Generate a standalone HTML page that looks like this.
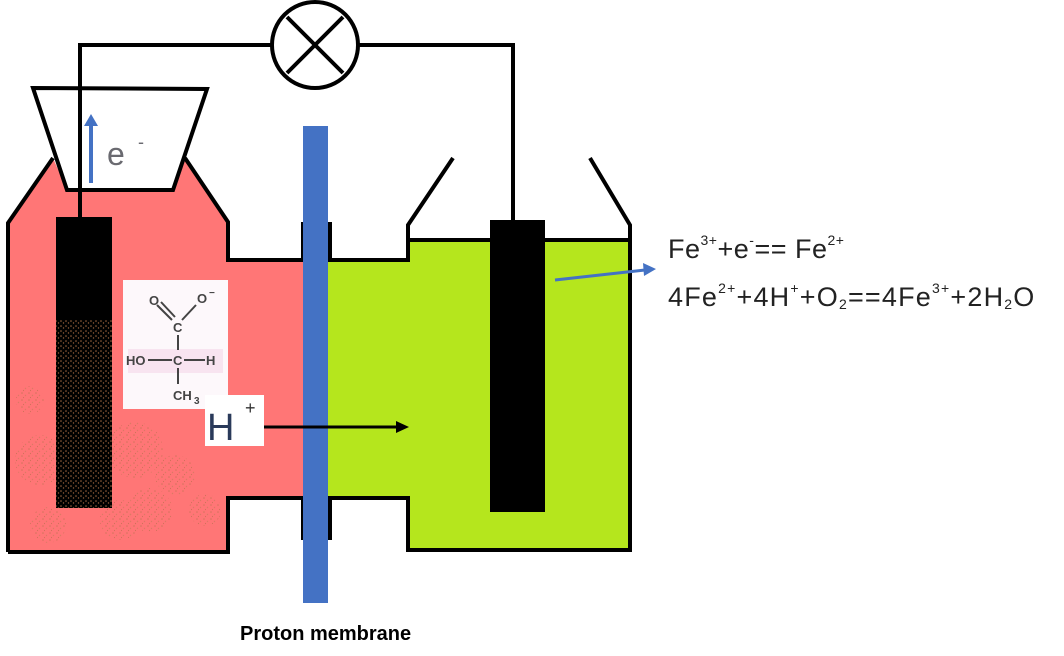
<!DOCTYPE html>
<html><head><meta charset="utf-8"><style>
html,body{margin:0;padding:0;background:#fff;}
svg{display:block;}
</style></head><body>
<svg width="1064" height="656" viewBox="0 0 1064 656" xmlns="http://www.w3.org/2000/svg">
<defs>
<pattern id="dots" width="7" height="7" patternUnits="userSpaceOnUse">
<circle cx="1" cy="1" r="0.8" fill="#a07040"/><circle cx="4.5" cy="3.5" r="0.7" fill="#b08050"/><circle cx="2.5" cy="5.5" r="0.6" fill="#9a6a3a"/>
</pattern>
<pattern id="dots2" width="5" height="5" patternUnits="userSpaceOnUse">
<circle cx="1" cy="1" r="0.8" fill="#e0915a"/><circle cx="3.5" cy="3" r="0.7" fill="#d08550"/>
</pattern>
</defs>
<path d="M8,223 L53,158 L67,190 L173,190 L185,158 L228,222 L228,260 L303,260 L303,538 L303,498 L228,498 L228,552 L8,552 Z" fill="#ff7676"/>
<path d="M326,260 L408,260 L408,240 L630,240 L630,550 L408,550 L408,498 L326,498 Z" fill="#b5e61d"/>
<g opacity="0.45">
<circle cx="40" cy="460" r="25" fill="url(#dots)"/><circle cx="48" cy="525" r="18" fill="url(#dots)"/>
<circle cx="135" cy="450" r="28" fill="url(#dots)"/><circle cx="150" cy="510" r="22" fill="url(#dots)"/>
<circle cx="205" cy="510" r="16" fill="url(#dots)"/><circle cx="175" cy="475" r="20" fill="url(#dots)"/>
<circle cx="30" cy="400" r="14" fill="url(#dots)"/><circle cx="120" cy="520" r="20" fill="url(#dots)"/>
</g>
<g fill="none" stroke="#000" stroke-width="4" stroke-linejoin="miter">
<path d="M8,552 L8,223 L53,158"/>
<path d="M185,158 L228,222 L228,260 L303,260 L303,222"/>
<path d="M303,540 L303,498 L228,498 L228,552 L8,552"/>
<path d="M330,222 L330,260 L408,260 L408,225 L453,158"/>
<path d="M408,240 L630,240"/>
<path d="M590,158 L630,225 L630,550 L408,550 L408,498 L330,498 L330,540"/>
<path d="M33,88 L207,89 L173,190 L67,190 Z"/>
<path d="M80,217 L80,45 L272,45"/>
<path d="M358,45 L513,45 L513,222"/>
</g>
<circle cx="315" cy="45" r="43" fill="#fff" stroke="#000" stroke-width="4"/>
<line x1="287" y1="17" x2="343" y2="73" stroke="#000" stroke-width="4"/>
<line x1="343" y1="17" x2="287" y2="73" stroke="#000" stroke-width="4"/>
<rect x="56" y="217" width="56" height="291" fill="#000"/>
<rect x="56" y="320" width="56" height="188" fill="url(#dots2)" opacity="0.7"/>
<rect x="490" y="220" width="55" height="292" fill="#000"/>
<rect x="303" y="126" width="25" height="477" fill="#4472c4"/>
<line x1="91" y1="183" x2="91" y2="124" stroke="#4472c4" stroke-width="4"/>
<polygon points="84,126 98,126 91,114" fill="#4472c4"/>
<text x="107" y="165" font-family="Liberation Sans, sans-serif" font-size="32" fill="#6a6a70">e</text>
<text x="138" y="148" font-family="Liberation Sans, sans-serif" font-size="18" fill="#6a6a70">-</text>
<rect x="123" y="280" width="105" height="129" fill="#fdf8fb"/>
<rect x="128" y="349" width="95" height="24" fill="#f8e4f0"/>
<g font-family="Liberation Sans, sans-serif" font-weight="bold" font-size="13" fill="#444">
<text x="149" y="305">O</text><text x="197" y="303">O</text><text x="209" y="296" font-size="10">−</text>
<text x="173" y="332">C</text>
<text x="126" y="365">HO</text><text x="173" y="365">C</text><text x="206" y="365">H</text>
<text x="173" y="400">CH</text><text x="194" y="404" font-size="10">3</text>
</g>
<g stroke="#444" stroke-width="2">
<line x1="157" y1="305" x2="172" y2="320"/><line x1="161" y1="302" x2="175" y2="317"/>
<line x1="182" y1="320" x2="196" y2="305"/>
<line x1="178" y1="335" x2="178" y2="350"/>
<line x1="148" y1="360" x2="172" y2="360"/><line x1="184" y1="360" x2="205" y2="360"/>
<line x1="178" y1="368" x2="178" y2="384"/>
</g>
<rect x="205" y="395" width="59" height="51" fill="#fff"/>
<text x="207" y="440" font-family="Liberation Sans, sans-serif" font-size="38" fill="#2a3a5a">H</text>
<text x="245" y="414" font-family="Liberation Sans, sans-serif" font-size="18" fill="#333">+</text>
<line x1="264" y1="427" x2="398" y2="427" stroke="#000" stroke-width="3"/>
<polygon points="396,421 409,427 396,433" fill="#000"/>
<line x1="555" y1="280" x2="645" y2="270" stroke="#4472c4" stroke-width="3"/>
<polygon points="643,263 656,269 644,276" fill="#4472c4"/>
<g font-family="Liberation Sans, sans-serif" fill="#222">
<text x="668" y="258" font-size="27" letter-spacing="0.5">Fe<tspan font-size="14" dy="-13">3+</tspan><tspan dy="13">+e</tspan><tspan font-size="14" dy="-13">-</tspan><tspan dy="13">== Fe</tspan><tspan font-size="14" dy="-13">2+</tspan></text>
<text x="668" y="306" font-size="27" letter-spacing="1.2">4Fe<tspan font-size="14" dy="-13">2+</tspan><tspan dy="13">+4H</tspan><tspan font-size="14" dy="-13">+</tspan><tspan dy="13">+O</tspan><tspan font-size="14" dy="3">2</tspan><tspan dy="-3">==4Fe</tspan><tspan font-size="14" dy="-13">3+</tspan><tspan dy="13">+2H</tspan><tspan font-size="14" dy="3">2</tspan><tspan dy="-3">O</tspan></text>
</g>
<text x="240" y="640" font-family="Liberation Sans, sans-serif" font-weight="bold" font-size="20" fill="#000">Proton membrane</text>
</svg>
</body></html>
